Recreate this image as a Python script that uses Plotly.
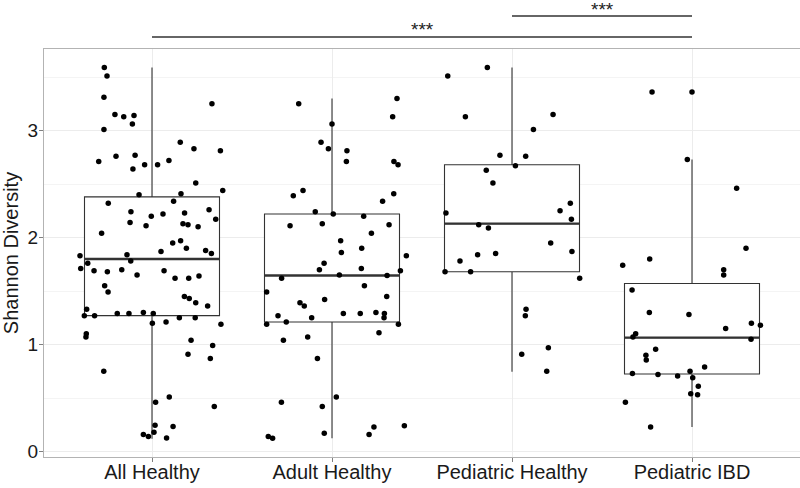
import plotly.graph_objects as go

categories = ["All Healthy", "Adult Healthy", "Pediatric Healthy", "Pediatric IBD"]

# Shannon diversity values per group, with the horizontal jitter
all_healthy_vals = [3.59, 3.51, 3.31, 3.25, 3.15, 3.13, 3.14, 3.06, 3.01, 2.89, 2.83, 2.81, 2.76, 2.77,
                    2.71, 2.68, 2.68, 2.72, 2.64, 2.51, 2.44, 2.40, 2.41, 2.32, 2.34, 2.24, 2.20, 2.22,
                    2.23, 2.26, 2.17, 2.14, 2.11, 2.13, 2.12, 2.10, 2.04, 1.95, 1.97, 1.90, 1.87, 1.88,
                    1.85, 1.83, 1.84, 1.76, 1.78, 1.71, 1.69, 1.68, 1.70, 1.65, 1.69, 1.62, 1.62, 1.64,
                    1.55, 1.49, 1.45, 1.43, 1.39, 1.36, 1.33, 1.27, 1.27, 1.29, 1.29, 1.30, 1.29, 1.20,
                    1.21, 1.25, 1.25, 1.19, 1.10, 1.07, 1.04, 0.99, 0.91, 0.87, 0.75, 0.51, 0.46, 0.42,
                    0.245, 0.235, 0.16, 0.14, 0.18, 0.126]
all_healthy_jit = [-0.265, -0.25, -0.267, 0.333, -0.206, -0.157, -0.1, -0.109, -0.267, 0.157, 0.233, 0.38,
                   -0.2, -0.094, -0.296, -0.041, 0.031, 0.094, -0.106, 0.243, 0.393, -0.072, 0.161, -0.243,
                   0.12, -0.117, -0.004, 0.061, 0.181, 0.317, 0.354, -0.122, -0.033, 0.172, 0.2, 0.256,
                   -0.28, 0.115, 0.159, 0.191, 0.05, 0.298, 0.33, -0.4, -0.139, -0.357, -0.118, -0.396,
                   -0.322, -0.248, -0.168, -0.083, 0.067, 0.128, 0.204, 0.261, -0.263, -0.244, 0.18, 0.207,
                   0.243, 0.309, -0.363, -0.376, -0.319, -0.193, -0.128, -0.048, 0.007, 0.002, 0.078, 0.152,
                   0.24, 0.383, -0.365, -0.367, 0.217, 0.337, 0.2, 0.324, -0.268, 0.096, 0.02, 0.346,
                   0.017, 0.117, -0.048, -0.02, 0.011, 0.081]

adult_healthy_vals = [3.25, 3.30, 3.13, 3.06, 2.89, 2.83, 2.81, 2.71, 2.71, 2.68, 2.39, 2.44, 2.41, 2.34,
                      2.24, 2.22, 2.20, 2.11, 2.13, 2.12, 2.04, 1.97, 1.86, 1.90, 1.83, 1.76, 1.70, 1.71,
                      1.69, 1.62, 1.65, 1.645, 1.49, 1.55, 1.45, 1.39, 1.36, 1.42, 1.27, 1.25, 1.29, 1.29,
                      1.30, 1.29, 1.25, 1.19, 1.21, 1.19, 1.11, 1.04, 1.07, 0.87, 0.51, 0.46, 0.42, 0.17,
                      0.23, 0.16, 0.24, 0.14, 0.125]
adult_healthy_jit = [-0.185, 0.361, 0.337, 0.0, -0.061, -0.02, 0.083, 0.08, 0.344, 0.367, -0.215, -0.161,
                     0.343, 0.281, -0.093, 0.007, 0.176, -0.233, -0.054, 0.317, 0.219, 0.048, 0.052, 0.165,
                     0.413, -0.044, -0.07, 0.163, 0.38, -0.28, 0.041, 0.306, -0.363, 0.18, 0.304, -0.178,
                     -0.154, -0.041, -0.3, -0.113, 0.063, 0.157, 0.244, 0.291, 0.289, -0.363, -0.254, 0.369,
                     0.261, -0.27, -0.135, -0.081, 0.024, -0.281, -0.054, -0.043, 0.233, 0.206, 0.402,
                     -0.354, -0.33]

pediatric_healthy_vals = [3.51, 3.59, 3.13, 3.15, 3.01, 2.77, 2.76, 2.67, 2.63, 2.51, 2.32, 2.25, 2.17,
                          2.23, 2.12, 2.09, 1.95, 1.87, 1.78, 1.84, 1.85, 1.68, 1.68, 1.62, 1.33, 1.27,
                          0.97, 0.91, 0.75]
pediatric_healthy_jit = [-0.357, -0.137, -0.259, 0.228, 0.119, -0.067, 0.076, 0.019, -0.143, -0.106, 0.324,
                         0.267, 0.33, -0.367, -0.185, -0.131, 0.215, 0.333, -0.289, -0.191, -0.091, -0.372,
                         -0.23, 0.376, 0.078, 0.074, 0.202, 0.054, 0.193]

pediatric_ibd_vals = [3.36, 3.36, 2.73, 2.46, 1.90, 1.74, 1.80, 1.70, 1.65, 1.51, 1.30, 1.28, 1.15, 1.20,
                      1.18, 1.10, 1.07, 1.05, 0.955, 0.90, 0.855, 0.79, 0.73, 0.72, 0.705, 0.75, 0.69,
                      0.61, 0.54, 0.53, 0.46, 0.23]
pediatric_ibd_jit = [-0.222, 0.0, -0.026, 0.248, 0.3, -0.385, -0.235, 0.176, 0.176, -0.333, -0.237, -0.017,
                     0.187, 0.33, 0.38, -0.313, -0.328, 0.328, -0.202, -0.256, -0.254, 0.07, -0.331, -0.189,
                     -0.08, -0.011, 0.004, 0.035, -0.007, 0.031, -0.37, -0.23]

# box statistics (as drawn)
q1 = [1.27, 1.21, 1.68, 0.725]
medians = [1.80, 1.645, 2.13, 1.065]
q3 = [2.38, 2.22, 2.68, 1.57]
lower_whisker = [0.12, 0.124, 0.745, 0.23]
upper_whisker = [3.59, 3.30, 3.59, 2.73]

y_ticks = [0, 1, 2, 3]

# significance brackets: (from group, to group, label)
brackets = [(1, 4, "***"), (3, 4, "***")]

positions = [1, 2, 3, 4]
box_width = 0.75
groups_vals = [all_healthy_vals, adult_healthy_vals, pediatric_healthy_vals, pediatric_ibd_vals]
groups_jit = [all_healthy_jit, adult_healthy_jit, pediatric_healthy_jit, pediatric_ibd_jit]

fig = go.Figure()

fig.add_trace(go.Box(
    x=positions, q1=q1, median=medians, q3=q3,
    lowerfence=lower_whisker, upperfence=upper_whisker,
    width=box_width, boxpoints=False, whiskerwidth=0,
    line=dict(color="#333333", width=1.1), fillcolor="white",
    hoverinfo="skip", showlegend=False,
))

# thicker median lines (ggplot style)
mx, my = [], []
for p, m in zip(positions, medians):
    mx += [p - box_width / 2, p + box_width / 2, None]
    my += [m, m, None]
fig.add_trace(go.Scatter(x=mx, y=my, mode="lines", line=dict(color="#333333", width=2.4),
                         hoverinfo="skip", showlegend=False))

px_all, py_all = [], []
for p, vals, jit in zip(positions, groups_vals, groups_jit):
    px_all += [p + j for j in jit]
    py_all += vals
fig.add_trace(go.Scatter(x=px_all, y=py_all, mode="markers",
                         marker=dict(color="black", size=5.5), hoverinfo="skip", showlegend=False))

# brackets above the panel
panel_top, panel_bottom = 49, 457
ph = panel_bottom - panel_top
bracket_px = [37, 16]
text_px = [30, 9.5]
for (g0, g1, lab), ly, ty in zip(brackets, bracket_px, text_px):
    yl = (panel_bottom - ly) / ph
    fig.add_shape(type="line", xref="x", yref="paper", x0=g0, x1=g1, y0=yl, y1=yl,
                  line=dict(color="#333333", width=1.3))
    fig.add_annotation(x=(g0 + g1) / 2, xref="x", y=(panel_bottom - ty) / ph, yref="paper",
                       text=lab, showarrow=False, font=dict(size=19, color="#222222"),
                       yanchor="middle")

font_family = "Liberation Sans, Arial, Helvetica, sans-serif"
fig.update_layout(
    width=800, height=488,
    margin=dict(l=44, r=0, t=49, b=31, autoexpand=False),
    plot_bgcolor="white", paper_bgcolor="white",
    font=dict(family=font_family, color="#1a1a1a"),
    xaxis=dict(range=[0.4, 4.6], tickvals=positions, ticktext=categories, automargin=False,
               tickfont=dict(size=20, color="#1a1a1a"), ticks="outside", ticklen=4,
               ticklabelstandoff=-7,
               tickcolor="#7f7f7f", showgrid=True, gridcolor="#ececec", gridwidth=1,
               zeroline=False, showline=True, linecolor="#b3b3b3", mirror=True, linewidth=1),
    yaxis=dict(range=[-0.051, 3.762], tickvals=y_ticks, automargin=False,
               tickfont=dict(size=19, color="#1a1a1a"), ticks="outside", ticklen=4,
               ticklabelstandoff=-3,
               tickcolor="#7f7f7f", showgrid=True, gridcolor="#ececec", gridwidth=1,
               minor=dict(dtick=0.5, showgrid=True, gridcolor="#f4f4f4", gridwidth=1),
               zeroline=False, showline=True, linecolor="#b3b3b3", mirror=True, linewidth=1,
               title=dict(text="Shannon Diversity", font=dict(size=20, color="#1a1a1a"), standoff=4)),
)

fig.write_html("out.html", config={"displayModeBar": False},
               post_script="document.body.style.margin='0';document.body.style.overflow='hidden';")
